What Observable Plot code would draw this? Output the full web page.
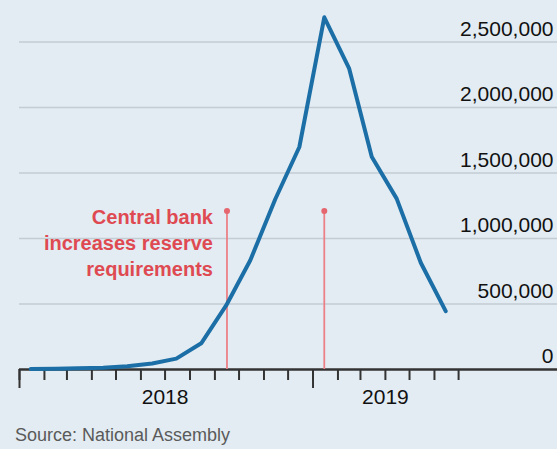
<!DOCTYPE html>
<html>
<head>
<meta charset="utf-8">
<script src="https://cdn.jsdelivr.net/npm/d3@7"></script>
<script src="https://cdn.jsdelivr.net/npm/@observablehq/plot@0.6"></script>
<style>
html, body { margin: 0; padding: 0; background: #e3ecf2; }
#chart { width: 557px; height: 449px; overflow: hidden; font-family: "Liberation Sans", Arial, sans-serif; }
#chart svg { display: block; }
.source { margin: 5px 0 0 15px; font-size: 18px; line-height: 20px; color: #5a5a5a; }
</style>
</head>
<body>
<div id="chart"></div>
<script>
// Monthly annual inflation rate, %, Venezuela
const months = ["2018-01","2018-02","2018-03","2018-04","2018-05","2018-06","2018-07","2018-08","2018-09",
                "2018-10","2018-11","2018-12","2019-01","2019-02","2019-03","2019-04","2019-05","2019-06"];
const inflation = [4068, 6147, 8878, 13779, 24571, 46305, 82766, 200005, 488865,
                   833997, 1299724, 1698488, 2688670, 2295981, 1623656, 1304494, 815194, 445482];

const yTicks = [0, 500000, 1000000, 1500000, 2000000, 2500000];
const yearLabels = ["2018", "2019"];
const yearLabelDates = ["2018-07-01", "2019-04-01"];
const yearTickDates = ["2018-01-01", "2019-01-01"];
const eventDates = ["2018-09-16", "2019-01-15"];
const eventMarkerValue = 1210000;
const eventLabel = "Central bank\nincreases reserve\nrequirements";
const sourceText = "Source: National Assembly";

const data = months.map((m, i) => ({date: new Date(m + "-15"), value: inflation[i]}));
const monthTicks = d3.utcMonths(new Date("2018-01-01"), new Date("2019-07-02"));

const FONT = "\"Liberation Sans\", Arial, sans-serif";

const chart = Plot.plot({
  width: 557,
  height: 420,
  marginLeft: 19,
  marginRight: 0,
  marginTop: 41.5,
  marginBottom: 51,
  style: {background: "#e3ecf2", fontFamily: FONT, overflow: "visible"},
  x: {type: "utc", domain: [new Date("2018-01-01"), new Date("2019-11-01")], axis: null},
  y: {domain: [0, 2500000], axis: null},
  marks: [
    Plot.ruleY(yTicks.filter(d => d > 0), {stroke: "#c4ccd3", strokeWidth: 1.6}),
    Plot.axisX({anchor: "bottom", ticks: monthTicks, tickSize: 11, tickFormat: () => "", stroke: "#333", strokeWidth: 2}),
    Plot.axisX({anchor: "bottom", ticks: yearTickDates.map(d => new Date(d)), tickSize: 19, tickFormat: () => "", stroke: "#333", strokeWidth: 2}),
    Plot.ruleY([0], {stroke: "#333", strokeWidth: 2.5}),
    Plot.text(yearLabels, {x: (d, i) => new Date(yearLabelDates[i]), frameAnchor: "bottom", text: d => d,
      dy: 28, lineAnchor: "middle", textAnchor: "middle", fontSize: 21, fill: "#111"}),
    Plot.text(yTicks, {y: d => d, text: d => d3.format(",")(d), frameAnchor: "right", textAnchor: "end",
      dx: -4, dy: -13, lineAnchor: "middle", fontSize: 21, fill: "#111"}),
    Plot.ruleX(eventDates, {x: d => new Date(d), y1: 0, y2: eventMarkerValue, stroke: "#ec8087", strokeWidth: 1.8}),
    Plot.dot(eventDates, {x: d => new Date(d), y: () => eventMarkerValue, r: 3, fill: "#e5666e", stroke: "none"}),
    Plot.text([eventLabel], {x: () => new Date(eventDates[0]), y: () => eventMarkerValue, text: d => d,
      textAnchor: "end", lineAnchor: "top", dx: -14, dy: -5, fontSize: 20, fontWeight: "bold",
      fill: "#df4a52", lineHeight: 1.3}),
    Plot.line(data, {x: "date", y: "value", stroke: "#1c6fa6", strokeWidth: 4,
      strokeLinejoin: "round", strokeLinecap: "round"})
  ]
});

const root = document.getElementById("chart");
root.appendChild(chart);
const src = document.createElement("div");
src.className = "source";
src.textContent = sourceText;
root.appendChild(src);
</script>
</body>
</html>
